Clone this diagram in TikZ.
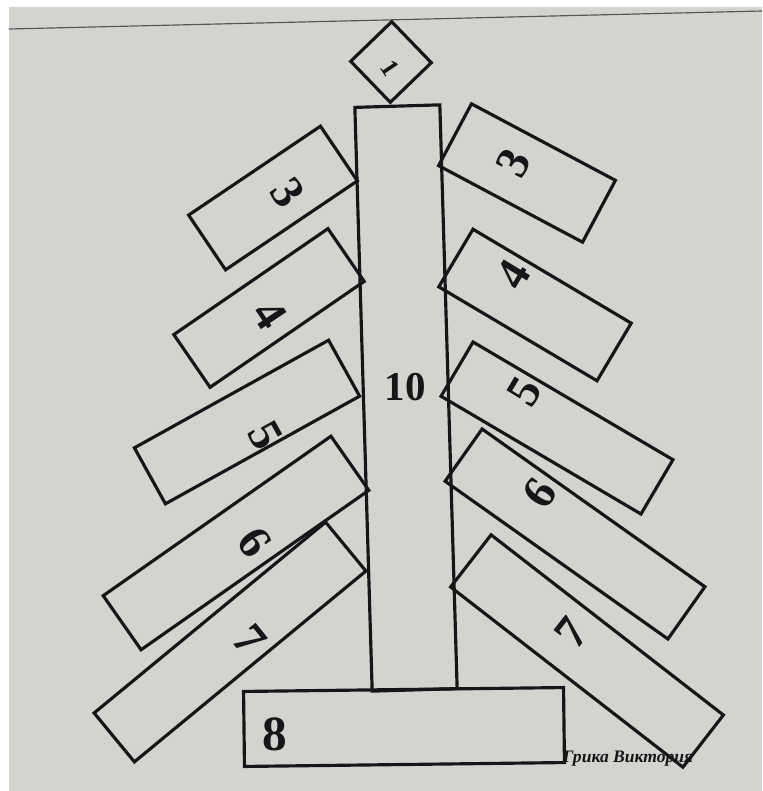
\documentclass[tikz,border=0pt]{standalone}
\usepackage{fontspec}
\setmainfont{Liberation Serif}
\usetikzlibrary{positioning}
\definecolor{screengray}{RGB}{212,212,207}
\definecolor{inkblack}{RGB}{22,22,26}
\definecolor{framegray}{RGB}{85,85,90}

\begin{document}
\begin{tikzpicture}[x=0.03cm, y=-0.03cm,
  branch/.style={draw=inkblack, line width=2.7pt, rectangle, inner sep=0pt},
  digit/.style={text=inkblack, font=\fontsize{40}{40}\selectfont\bfseries, inner sep=0pt}]
 \useasboundingbox (0,0) rectangle (762,791);
 \fill[screengray] (0,0) rectangle (762,791);
 \fill[white] (0,0) rectangle (9,791);
 \fill[white] (0,0) rectangle (762,7);
 \draw[framegray, line width=1pt] (9,29) -- (762,11);
 % trunk, stand and top
 \node[branch, minimum width=2.55cm, minimum height=17.52cm, rotate=1.7] (trunk) at (406,398) {};
 \node[branch, minimum width=9.6cm, minimum height=2.25cm, rotate=0.7] (stand) at (404,727) {};
 \node[branch, minimum size=1.71cm, rotate=44] (top) at (391,62) {};
 % left branches
 \node[branch, minimum width=4.77cm, minimum height=1.98cm, rotate=34] (left3) at (273,198) {};
 \node[branch, minimum width=5.61cm, minimum height=1.92cm, rotate=34.5] (left4) at (269,308) {};
 \node[branch, minimum width=6.66cm, minimum height=1.92cm, rotate=29] (left5) at (247,422) {};
 \node[branch, minimum width=8.34cm, minimum height=1.98cm, rotate=35] (left6) at (236,543) {};
 \node[branch, minimum width=9.0cm, minimum height=1.9cm, rotate=39.5] (left7) at (230,642) {};
 % right branches
 \node[branch, minimum width=4.89cm, minimum height=2.1cm, rotate=-28] (right3) at (527,173) {};
 \node[branch, minimum width=5.52cm, minimum height=2.01cm, rotate=-30.7] (right4) at (535,305) {};
 \node[branch, minimum width=6.96cm, minimum height=1.89cm, rotate=-30.5] (right5) at (557,428) {};
 \node[branch, minimum width=8.19cm, minimum height=1.92cm, rotate=-35.3] (right6) at (575,534) {};
 \node[branch, minimum width=8.82cm, minimum height=1.98cm, rotate=-37.8] (right7) at (587,651) {};
 % numbers
 \node[digit, font=\fontsize{22}{22}\selectfont\bfseries, rotate=-56] (toptxt) at (390,68) {1};
 \node[digit, font=\fontsize{35}{35}\selectfont\bfseries] (trunktxt) at (405,387) {10};
 \node[digit, font=\fontsize{42}{42}\selectfont\bfseries] (standtxt) at (275,734) {8};
 \node[digit, rotate=-56] (left3txt) at (288,193) {3};
 \node[digit, rotate=-56] (left4txt) at (270,315) {4};
 \node[digit, rotate=-61] (left5txt) at (265,435) {5};
 \node[digit, rotate=-55] (left6txt) at (255,542) {6};
 \node[digit, rotate=-51] (left7txt) at (250,640) {7};
 \node[digit, rotate=62] (right3txt) at (513,163) {3};
 \node[digit, rotate=59] (right4txt) at (513,275) {4};
 \node[digit, rotate=59] (right5txt) at (525,392) {5};
 \node[digit, rotate=55] (right6txt) at (540,493) {6};
 \node[digit, rotate=52] (right7txt) at (572,633) {7};
 \node[text=inkblack, font=\fontsize{15}{15}\selectfont\bfseries\itshape, inner sep=0pt] (author) at (628,759) {Грика Виктория};
\end{tikzpicture}
\end{document}
